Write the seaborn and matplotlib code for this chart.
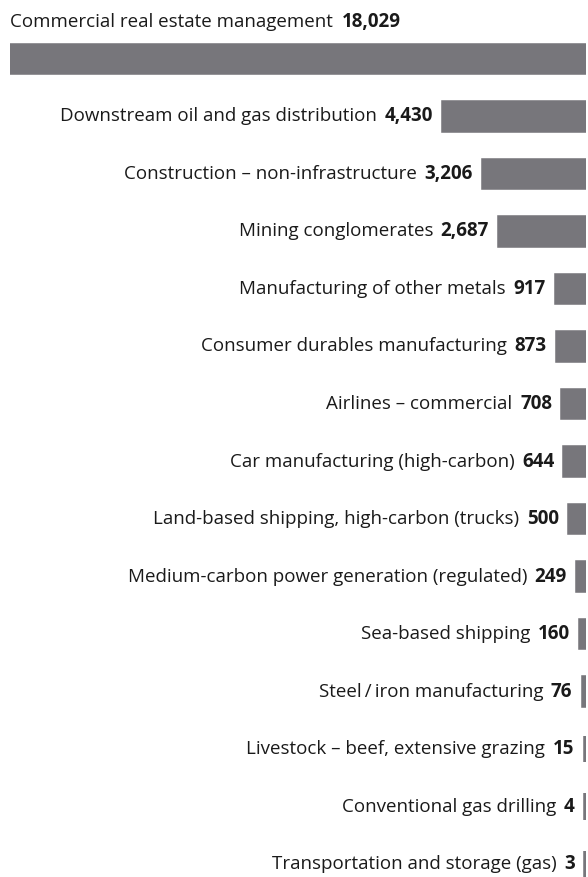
import matplotlib
matplotlib.use("Agg")
import matplotlib.pyplot as plt
import seaborn as sns

# sectors and their values (top to bottom)
sectors = [
    "Commercial real estate management",
    "Downstream oil and gas distribution",
    "Construction \u2013 non-infrastructure",
    "Mining conglomerates",
    "Manufacturing of other metals",
    "Consumer durables manufacturing",
    "Airlines \u2013 commercial",
    "Car manufacturing (high-carbon)",
    "Land-based shipping, high-carbon (trucks)",
    "Medium-carbon power generation (regulated)",
    "Sea-based shipping",
    "Steel\u2009/\u2009iron manufacturing",
    "Livestock \u2013 beef, extensive grazing",
    "Conventional gas drilling",
    "Transportation and storage (gas)",
]
values = [18029, 4430, 3206, 2687, 917, 873, 708, 644, 500, 249, 160, 76, 15, 4, 3]

bar_color = "#77767b"
text_color = "#1a1a1a"

sns.set_style("white")
plt.rcParams["font.family"] = ["Open Sans", "DejaVu Sans"]

fig = plt.figure(figsize=(5.88, 8.77), dpi=100)
ax = fig.add_axes([10 / 588, 0, 576 / 588, 1])

# thick edge in the bar colour keeps the tiny bars visible
sns.barplot(x=values, y=sectors, orient="h", color=bar_color, width=0.46,
            saturation=1, edgecolor=bar_color, linewidth=4, ax=ax)

ax.set_xlim(max(values), 0)
ax.set_ylim(14.226, -1.026)
ax.axis("off")

fs = 13.5
for i, (name, v) in enumerate(zip(sectors, values)):
    if i == 0:
        # label sits above the full-width bar
        t = ax.annotate(f"{name} ", xy=(v, i), xytext=(0, 26.5), textcoords="offset points",
                        ha="left", va="center", fontsize=fs, color=text_color)
        ax.annotate(f"{v:,}", xy=(1, 0.5), xycoords=t, xytext=(3, 0), textcoords="offset points",
                    ha="left", va="center", fontsize=fs, fontweight="bold", color=text_color)
    else:
        t = ax.annotate(f"{v:,}", xy=(v, i), xytext=(-8, 0), textcoords="offset points",
                        ha="right", va="center", fontsize=fs, fontweight="bold", color=text_color)
        ax.annotate(f"{name} ", xy=(0, 0.5), xycoords=t, xytext=(-2, 0), textcoords="offset points",
                    ha="right", va="center", fontsize=fs, color=text_color)

fig.savefig("out.png", dpi=100)
